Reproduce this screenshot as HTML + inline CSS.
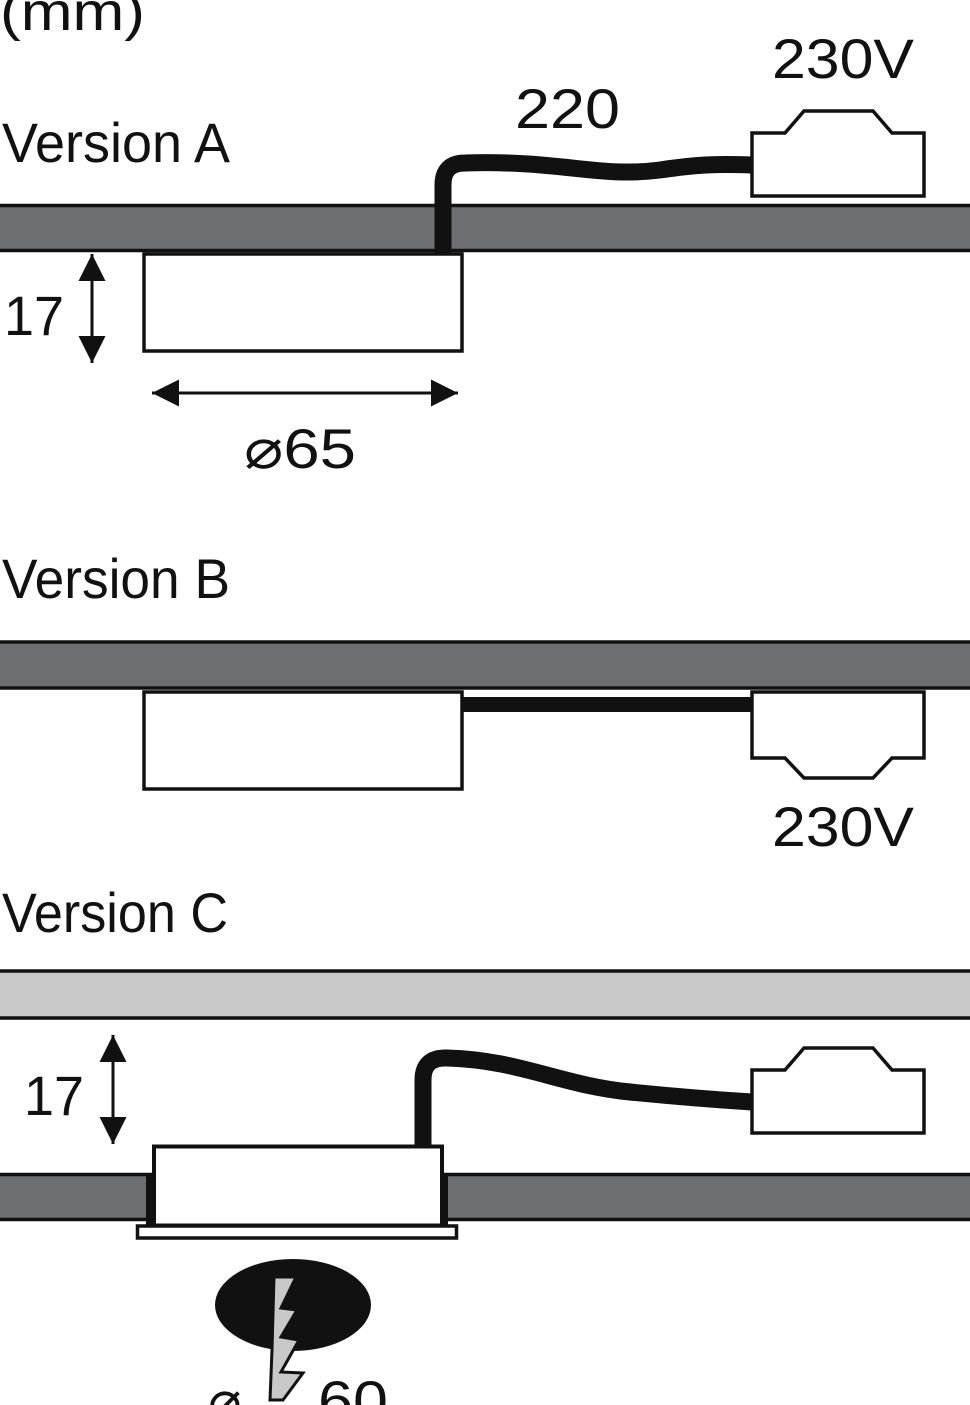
<!DOCTYPE html>
<html><head><meta charset="utf-8"><style>
html,body{margin:0;padding:0;background:#fff;}
svg{display:block;}
text{font-family:"Liberation Sans",sans-serif;fill:#111;}
</style></head><body>
<svg width="970" height="1405" viewBox="0 0 970 1405" xmlns="http://www.w3.org/2000/svg">
<defs>
<marker id="ah" viewBox="0 0 10 10" refX="10" refY="5" markerWidth="10" markerHeight="9" orient="auto-start-reverse">
<path d="M0,0 L10,5 L0,10 z" fill="#111"/></marker>
</defs>
<text x="0" y="30" font-size="54" textLength="145" lengthAdjust="spacingAndGlyphs">(mm)</text>

<!-- Version A -->
<text x="2" y="162" font-size="56" textLength="228" lengthAdjust="spacingAndGlyphs">Version A</text>
<text x="515" y="128" font-size="56" textLength="105" lengthAdjust="spacingAndGlyphs">220</text>
<text x="772" y="78" font-size="56" textLength="142" lengthAdjust="spacingAndGlyphs">230V</text>
<rect x="-5" y="205.5" width="980" height="45" fill="#6d6e71" stroke="#111" stroke-width="3.5"/>
<rect x="144" y="254" width="318" height="97" fill="#fff" stroke="#111" stroke-width="3.5"/>
<path d="M443,254 L443,185 Q443,163 465,163 C560,160 600,178 660,170 C700,164 720,164 752,165" fill="none" stroke="#111" stroke-width="17"/>
<path d="M752,133 L785,133 L804,111 L873,111 L892,133 L924,133 L924,196 L752,196 Z" fill="#fff" stroke="#111" stroke-width="3.5"/>
<line x1="92" y1="254" x2="92" y2="363" stroke="#111" stroke-width="3" marker-start="url(#ah)" marker-end="url(#ah)"/>
<text x="4" y="335" font-size="56" textLength="60" lengthAdjust="spacingAndGlyphs">17</text>
<line x1="152" y1="393" x2="458" y2="393" stroke="#111" stroke-width="3" marker-start="url(#ah)" marker-end="url(#ah)"/>
<text x="244" y="468" font-size="56" textLength="112" lengthAdjust="spacingAndGlyphs">⌀65</text>

<!-- Version B -->
<text x="2" y="598" font-size="56" textLength="228" lengthAdjust="spacingAndGlyphs">Version B</text>
<rect x="-5" y="642" width="980" height="46" fill="#6d6e71" stroke="#111" stroke-width="3.5"/>
<rect x="144" y="692" width="318" height="97" fill="#fff" stroke="#111" stroke-width="3.5"/>
<rect x="462" y="697" width="290" height="15" fill="#111"/>
<path d="M752,692 L924,692 L924,758 L892,758 L873,778 L804,778 L785,758 L752,758 Z" fill="#fff" stroke="#111" stroke-width="3.5"/>
<text x="772" y="846" font-size="56" textLength="142" lengthAdjust="spacingAndGlyphs">230V</text>

<!-- Version C -->
<text x="2" y="932" font-size="56" textLength="226" lengthAdjust="spacingAndGlyphs">Version C</text>
<rect x="-5" y="971" width="980" height="47" fill="#c8c8c9" stroke="#111" stroke-width="3.5"/>
<line x1="113" y1="1035" x2="113" y2="1144" stroke="#111" stroke-width="3" marker-start="url(#ah)" marker-end="url(#ah)"/>
<text x="24" y="1115" font-size="56" textLength="60" lengthAdjust="spacingAndGlyphs">17</text>
<rect x="-5" y="1174.5" width="980" height="45" fill="#6d6e71" stroke="#111" stroke-width="3.5"/>
<rect x="146" y="1173" width="302" height="53" fill="#111"/>
<rect x="137.5" y="1226" width="319" height="12" fill="#fff" stroke="#111" stroke-width="3.5"/>
<rect x="154" y="1146.5" width="288" height="79" fill="#fff" stroke="#111" stroke-width="4"/>
<path d="M423,1146 L423,1080 Q423,1057 447,1058 C520,1060 560,1085 630,1092 C690,1098 720,1100 752,1102" fill="none" stroke="#111" stroke-width="17"/>
<path d="M752,1070 L785,1070 L804,1048 L873,1048 L892,1070 L924,1070 L924,1133 L752,1133 Z" fill="#fff" stroke="#111" stroke-width="3.5"/>
<ellipse cx="293" cy="1305" rx="78" ry="46" fill="#111"/>
<path d="M274,1277 L296,1277 L281,1308 L297,1310 L281,1337 L299,1340 L281,1372 L303,1373 L283,1400 L270,1400 L272,1350 Z" fill="#c8c8c9" stroke="#111" stroke-width="3"/>
<text x="208" y="1420" font-size="56">⌀</text>
<text x="318" y="1420" font-size="56" textLength="70" lengthAdjust="spacingAndGlyphs">60</text>
</svg>
</body></html>
